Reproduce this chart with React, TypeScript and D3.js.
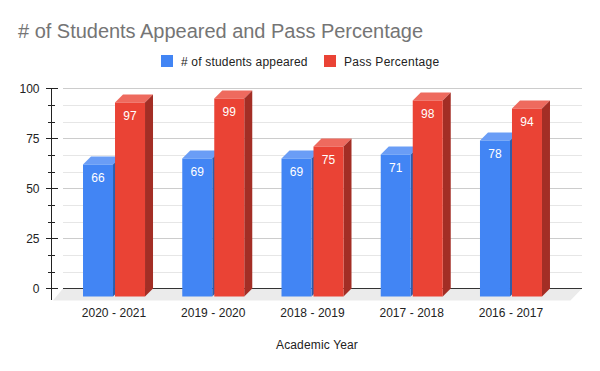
import React from "react";
import * as d3 from "d3";

const categories = ["2020 - 2021", "2019 - 2020", "2018 - 2019", "2017 - 2018", "2016 - 2017"];
const studentsAppeared = [66, 69, 69, 71, 78];
const passPercentage = [97, 99, 75, 98, 94];
const seriesNames = ["# of students appeared", "Pass Percentage"];
const seriesColors = [
  { front: "#4285f4", top: "#6a9df6", side: "#2e5dab" },
  { front: "#ea4335", top: "#ee6a5e", side: "#a32e25" },
];
const legendSpacing = [0.18, 0.27];
const majorTicks = [0, 25, 50, 75, 100];
const minorTicks = [8.33, 16.67, 33.33, 41.67, 58.33, 66.67, 83.33, 91.67];
const FONT = "'Liberation Sans', Arial, sans-serif";

export default function App() {
  const y = d3.scaleLinear().domain([0, 100]).range([288.5, 88.5]);
  const x0 = d3.scaleBand<string>().domain(categories).range([64.4, 560.6]);
  const x1 = d3.scaleBand<string>().domain(seriesNames).range([0, 62]).paddingInner(1 / 16);
  const depth = 8;
  const bw = x1.bandwidth();
  const gridL = 63;
  const gridR = 582;
  const groupPad = (x0.bandwidth() - 62) / 2;
  const series = [studentsAppeared, passPercentage];

  return (
    <svg width={600} height={371} style={{ position: "absolute", left: 0, top: 0, background: "#fff" }} fontFamily={FONT}>
      <text x={18} y={38} fontSize={20} fill="#757575" letterSpacing={-0.02}>
        # of Students Appeared and Pass Percentage
      </text>

      {seriesNames.map((name, i) => {
        const sx = i === 0 ? 161 : 324;
        return (
          <g key={name}>
            <rect x={sx} y={55} width={12} height={12} fill={seriesColors[i].front} />
            <text x={sx + 20} y={66} fontSize={12} fill="#222" letterSpacing={legendSpacing[i]}>
              {name}
            </text>
          </g>
        );
      })}

      <polygon
        points={`${gridL},${y(0)} ${gridR},${y(0)} ${gridR - 11.6},${y(0) + 12} ${gridL - 10},${y(0) + 12}`}
        fill="#ebebeb"
      />
      {minorTicks.map((t) => (
        <line key={t} x1={gridL} x2={gridR} y1={Math.round(y(t)) + 0.5} y2={Math.round(y(t)) + 0.5} stroke="#e6e6e6" />
      ))}
      {majorTicks.slice(1).map((t) => (
        <line key={t} x1={gridL} x2={gridR} y1={y(t)} y2={y(t)} stroke="#cccccc" />
      ))}
      <line x1={gridL} x2={gridR} y1={y(0)} y2={y(0)} stroke="#333333" />

      <line x1={51.5} x2={51.5} y1={88} y2={300} stroke="#222" />
      {majorTicks.map((t) => (
        <g key={t}>
          <line x1={46} x2={58} y1={y(t)} y2={y(t)} stroke="#222" />
          <text x={39.5} y={y(t) + 4} textAnchor="end" fontSize={12} fill="#222">
            {t}
          </text>
        </g>
      ))}
      {minorTicks.map((t) => (
        <line key={t} x1={48} x2={55} y1={Math.round(y(t)) + 0.5} y2={Math.round(y(t)) + 0.5} stroke="#222" />
      ))}

      {categories.map((c, ci) => {
        const gx = (x0(c) as number) + groupPad;
        return (
          <g key={c}>
            {seriesNames.map((name, si) => {
              const v = series[si][ci];
              const bx = gx + (x1(name) as number);
              const backTop = y(v);
              const frontTop = backTop + depth;
              const frontBot = y(0) + depth;
              const col = seriesColors[si];
              return (
                <g key={name}>
                  <polygon
                    points={`${bx},${frontTop} ${bx + depth},${backTop} ${bx + bw + depth},${backTop} ${bx + bw},${frontTop}`}
                    fill={col.top}
                  />
                  <polygon
                    points={`${bx + bw},${frontTop} ${bx + bw + depth},${backTop} ${bx + bw + depth},${y(0)} ${bx + bw},${frontBot}`}
                    fill={col.side}
                  />
                  <rect x={bx} y={frontTop} width={bw} height={frontBot - frontTop} fill={col.front} />
                  <text x={bx + bw / 2} y={frontTop + 17} textAnchor="middle" fontSize={12} fill="#fff">
                    {v}
                  </text>
                </g>
              );
            })}
            <text x={gx + 31} y={317} textAnchor="middle" fontSize={12} fill="#222" letterSpacing={0.05}>
              {c}
            </text>
          </g>
        );
      })}

      <text x={317} y={349} textAnchor="middle" fontSize={12} fill="#222" letterSpacing={0.15}>
        Academic Year
      </text>
    </svg>
  );
}
